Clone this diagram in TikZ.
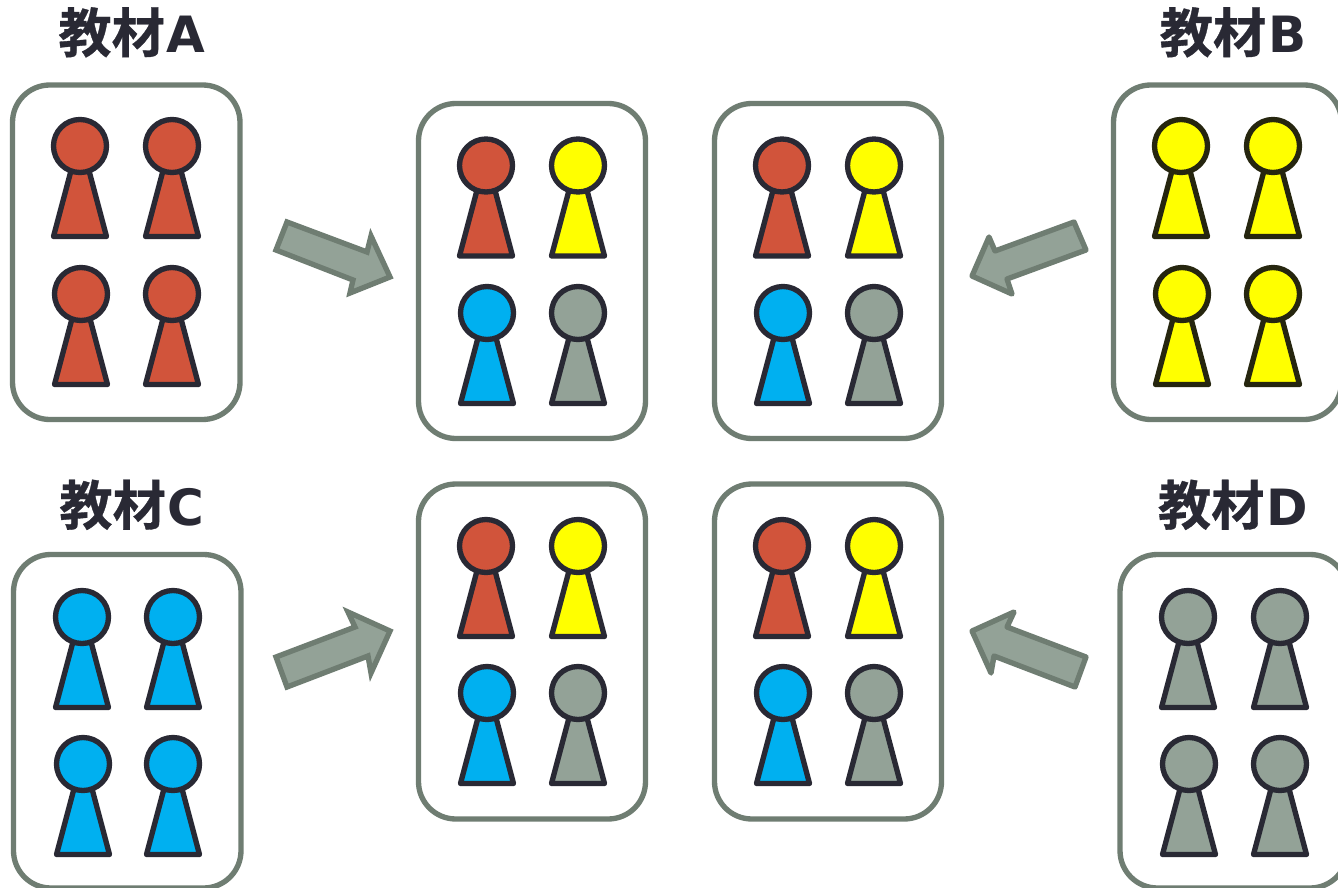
\documentclass[tikz,border=0pt]{standalone}
\usepackage{fontspec}
\newfontfamily\cjk{Noto Sans CJK JP}[BoldFont=* Bold,BoldFeatures={FakeBold=0.6}]
\newfontfamily\latn{DejaVu Sans}[BoldFont=* Bold]
\definecolor{cred}{HTML}{D1543B}
\definecolor{cyel}{HTML}{FFFF00}
\definecolor{cblu}{HTML}{00B0F0}
\definecolor{cgry}{HTML}{93A297}
\definecolor{cdark}{HTML}{292934}
\definecolor{cdarky}{HTML}{26260F}
\definecolor{cbox}{HTML}{6F7D72}
\tikzset{
  panel/.style={draw=cbox,line width=4pt,fill=white,rounded corners=28pt},
  pawnpart/.style={line width=4pt,line join=round},
  bigarrow/.style={draw=cbox,fill=cgry,line width=4pt},
  heading/.style={anchor=base,text=cdark,font=\bfseries,inner sep=0pt}
}
\newcommand{\headtext}[1]{{\cjk\bfseries\fontsize{40}{40}\selectfont 教材}{\latn\bfseries\fontsize{37.5}{40}\selectfont\hspace{1.5pt}#1}}
\newcommand{\pawn}[4]{%
  \draw[pawnpart,draw=#4,fill=#3] (#1-8.8,#2+24) -- (#1-26.5,#2+90.5) -- (#1+26.5,#2+90.5) -- (#1+8.8,#2+24) -- cycle;
  \draw[pawnpart,draw=#4,fill=#3] (#1,#2) circle (26.5);
}
\newcommand{\pawnset}[9]{%
  \pawn{#1}{#2}{#3}{cdark}\pawn{#4}{#2}{#5}{cdark}
  \pawn{#6}{#7}{#8}{cdark}\pawn{#4}{#7}{#9}{cdark}
}
\begin{document}
\begin{tikzpicture}[x=0.75pt,y=-0.75pt]
\useasboundingbox (0,0) rectangle (1338,888);
\clip (0,0) rectangle (1338,888);
\fill[white] (0,0) rectangle (1338,888);
% headings
\node[heading] (ta) at (132,52.5) {\headtext{A}};
\node[heading] (tb) at (1233,52.5) {\headtext{B}};
\node[heading] (tc) at (132,525) {\headtext{C}};
\node[heading] (td) at (1233,525) {\headtext{D}};
% panels
\draw[panel] (12.5,85) rectangle (240,419.5);
\draw[panel] (1113.5,85) rectangle (1341.5,419.5);
\draw[panel] (13.5,554.5) rectangle (241,888);
\draw[panel] (1120,554.5) rectangle (1347.5,888);
\draw[panel] (418.5,103.5) rectangle (645.5,438.5);
\draw[panel] (714.5,103.5) rectangle (941.5,438.5);
\draw[panel] (418.5,484) rectangle (645.5,819);
\draw[panel] (714.5,484) rectangle (941.5,819);
% arrows
\draw[bigarrow] (287,222) -- (276,250) -- (353,280) -- (350,293) -- (390,277) -- (371,236) -- (367,252) -- cycle;
\draw[bigarrow,line join=round] (1074,222) -- (1086,250) -- (1007,279) -- (1012,294) -- (972,276) -- (989,237) -- (995,251) -- cycle;
\draw[bigarrow] (276,657) -- (287,687) -- (368,656) -- (371,673) -- (390,631) -- (348,612) -- (355,627) -- cycle;
\draw[bigarrow,line join=round] (1086,657) -- (1075,687) -- (994,656) -- (991,673) -- (972,631) -- (1014,612) -- (1007,627) -- cycle;
% source pawns
\pawn{80}{146}{cred}{cdark}\pawn{172}{146}{cred}{cdark}\pawn{81}{294}{cred}{cdark}\pawn{172}{294}{cred}{cdark}
\pawn{1181}{146}{cyel}{cdarky}\pawn{1273}{146}{cyel}{cdarky}\pawn{1182}{294}{cyel}{cdarky}\pawn{1273}{294}{cyel}{cdarky}
\pawn{82}{617}{cblu}{cdark}\pawn{173}{617}{cblu}{cdark}\pawn{83}{764}{cblu}{cdark}\pawn{173}{764}{cblu}{cdark}
\pawn{1188}{617}{cgry}{cdark}\pawn{1280}{617}{cgry}{cdark}\pawn{1189}{764}{cgry}{cdark}\pawn{1280}{764}{cgry}{cdark}
% mixed groups
\pawnset{486}{165.5}{cred}{578}{cyel}{487}{313}{cblu}{cgry}
\pawnset{782}{165.5}{cred}{874}{cyel}{783}{313}{cblu}{cgry}
\pawnset{486}{546}{cred}{578}{cyel}{487}{693}{cblu}{cgry}
\pawnset{782}{546}{cred}{874}{cyel}{783}{693}{cblu}{cgry}
\end{tikzpicture}
\end{document}
